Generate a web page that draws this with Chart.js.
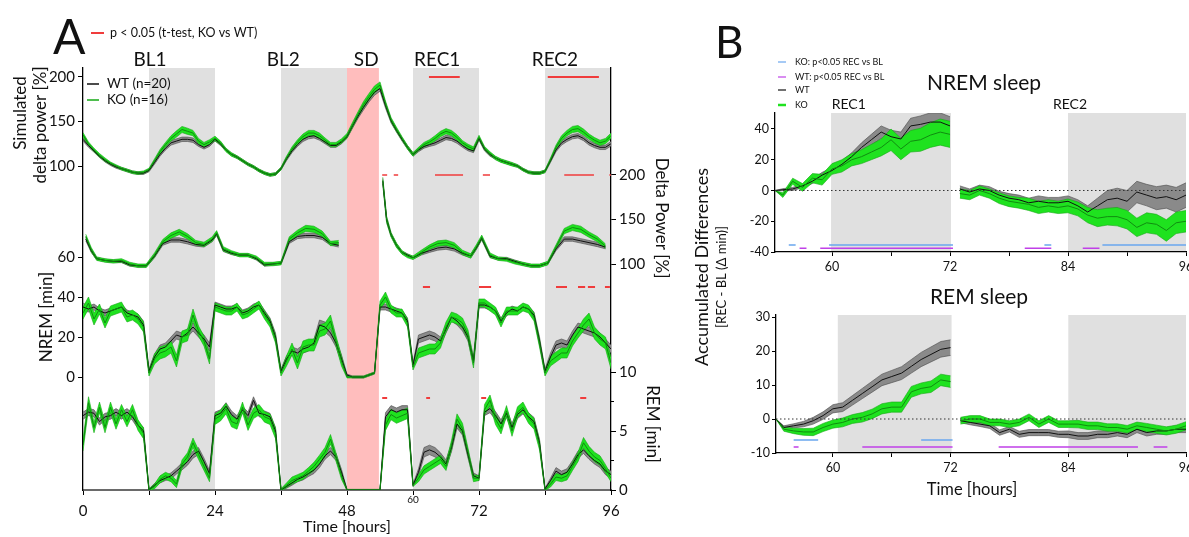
<!DOCTYPE html>
<html>
<head>
<meta charset="utf-8">
<script src="https://cdn.jsdelivr.net/npm/chart.js@4.4.1/dist/chart.umd.min.js"></script>
<style>
  html, body { margin: 0; padding: 0; background: #fff; }
  #wrap { position: relative; width: 1189px; height: 537px; overflow: hidden; }
  canvas { position: absolute; top: 0; }
</style>
</head>
<body>
<div id="wrap">
  <canvas id="chartA" width="700" height="537" style="left:0;width:700px;height:537px"></canvas>
  <canvas id="chartB1" width="499" height="537" style="left:690px;width:499px;height:537px"></canvas>
  <canvas id="chartB2" width="499" height="537" style="left:690px;width:499px;height:537px"></canvas>
</div>
<script>
// ---------- Panel A data (hourly, 0..96 h) ----------
const hours = [0,1,2,3,4,5,6,7,8,9,10,11,12,13,14,15,16,17,18,19,20,21,22,23,24,25,26,27,28,29,30,31,32,33,34,35,36,37,38,39,40,41,42,43,44,45,46,47,48,49,50,51,52,53,54,55,56,57,58,59,60,61,62,63,64,65,66,67,68,69,70,71,72,73,74,75,76,77,78,79,80,81,82,83,84,85,86,87,88,89,90,91,92,93,94,95,96];

// simulated delta power [%]
const simWT = [130,123,117,111,106,102,99,97,95,93,92,92, 95,104,113,120,126,128,130,130,129,124,121,124, 130,125,118,113,110,106,102,99,95,92,90,91, 97,108,117,124,130,133,134,131,127,123,123,127, 133,145,156,166,175,183, 187,168,151,140,130,121, 113,118,122,124,126,129,132,131,128,123,119,117, 131,119,113,109,106,104,102,100,96,93,92,92, 94,106,118,126,130,133,134,131,126,123,121,121,125];
const simKO = [135,125,118,112,107,103,100,97,95,93,92,93, 96,106,116,124,131,136,141,139,137,128,124,127, 131,126,118,113,110,106,102,99,95,92,90,91, 97,109,119,127,133,137,137,134,129,124,124,128, 134,146,158,169,178,186, 191,170,152,141,131,121, 113,119,124,127,131,136,139,137,132,126,122,119, 132,120,114,109,106,104,102,100,96,93,92,92, 94,107,121,131,137,141,142,138,133,129,126,128,134];
const simSemWT = [2,2,1.5,1.5,1.5,1.5,1.5,1.5,1.5,1.5,1.5,1.5, 1.5,2,2,2,2.5,2.5,2.5,2.5,2.5,2,2,2, 2,2,1.5,1.5,1.5,1.5,1.5,1.5,1.5,1.5,1.5,1.5, 1.5,2,2,2,2.5,2.5,2.5,2,2,2,2,2, 2,2.5,2.5,3,3,3.5, 3,3,2.5,2,2,2, 2,2,2,2,2.5,2.5,2.5,2.5,2.5,2,2,2, 2,2,2,1.5,1.5,1.5,1.5,1.5,1.5,1.5,1.5,1.5, 1.5,2,2,2.5,2.5,2.5,2.5,2.5,2.5,2.5,2.5,2.5,2.5];
const simSemKO = [2.5,2,2,2,2,1.5,1.5,1.5,1.5,1.5,1.5,1.5, 1.5,2,2.5,2.5,3,3.5,3.5,3.5,3,3,2.5,2.5, 2.5,2,2,2,1.5,1.5,1.5,1.5,1.5,1.5,1.5,1.5, 1.5,2,2.5,2.5,3,3,3,3,2.5,2.5,2.5,2.5, 2.5,3,3,3.5,3.5,4, 3.5,3,2.5,2.5,2,2, 2,2,2.5,2.5,3,3,3,3,3,2.5,2.5,2.5, 2.5,2,2,2,2,2,2,1.5,1.5,1.5,1.5,1.5, 1.5,2,2.5,3,3,3.5,3.5,3.5,3,3,3,3,3];

// EEG delta power [%] (null = gap around SD)
const deltaHours = [0.5,1.5,2.5,4,5.5,7,8.5,10,11.5,13,14.5,16,17.5,19,20.5,22,23.5,24.3,25.5,27,28.5,30,31.5,33,34.5,36,37.5,39,40.5,42,43.5,45,46.5, 50, 54.5,55.2,56,57,58,59,60,61.5,63,64.5,66,67.5,69,70.5,71.5,72.5,74,75.5,77,78.5,80,81.5,83,84.5,86,87.5,89,90.5,92,93.5,95];
const deltaWT = [128,115,106,104,103,103,99,98,98,109,123,127,127,125,122,121,127,134,116,112,110,110,106,99,100,101,125,131,132,132,130,123,121, null, 193,150,133,121,113,110,107,112,115,118,119,117,112,109,118,129,109,106,106,103,100,98,98,101,117,128,128,126,124,122,119];
const deltaKO = [131,116,106,104,103,104,100,98,98,110,125,132,136,131,124,122,128,135,117,113,110,110,107,100,100,101,128,135,140,139,134,123,124, null, 194,150,133,121,113,109,107,113,119,123,124,121,113,109,119,130,110,106,105,102,100,98,98,101,119,137,141,139,133,128,120];
const deltaSemWT = [2,2,1.5,1.5,1.5,1.5,1.5,1.5,1.5,2,2,2.5,2.5,2.5,2,2,2,2,2,1.5,1.5,1.5,1.5,1.5,1.5,1.5,2,2.5,2.5,2.5,2.5,2,2, 0, 3,3,2,2,1.5,1.5,1.5,2,2,2.5,2.5,2.5,2,2,2,2,2,1.5,1.5,1.5,1.5,1.5,1.5,1.5,2,2.5,2.5,2.5,2.5,2.5,2];
const deltaSemKO = [2.5,2.5,2,2,2,2,2,2,2,2.5,2.5,3,3,3,2.5,2.5,2.5,2.5,2.5,2,2,2,2,2,2,2,2.5,3,3.5,3.5,3,2.5,2.5, 0, 3.5,3.5,2.5,2.5,2,2,2,2.5,2.5,3,3,3,2.5,2.5,2.5,2.5,2.5,2,2,2,2,2,2,2,2.5,3,3.5,3.5,3,3,2.5];

// NREM [min/h]
const nremWT = [35,34,35,33,32,33,34,35,32,31,30,26, 3,10,14,15,18,21,20,22,25,22,19,15, 36,35,34,34,35,32,33,35,36,32,28,20, 3,9,13,12,14,15,17,26,25,22,17,9, 1,0,0,0,1,2, 35,35,34,33,32,28, 6,19,20,21,20,18,24,30,28,25,20,8, 36,36,35,33,28,32,34,33,35,34,31,18, 3,10,16,17,16,21,25,24,23,22,20,17,14];
const nremKO = [32,37,29,34,27,33,34,35,30,31,29,25, 2,9,12,13,15,8,20,21,31,23,18,9, 35,34,33,33,35,31,32,34,36,31,27,19, 2,8,14,7,15,16,16,23,24,28,18,8, 0,0,0,0,1,2, 36,40,34,32,32,27, 5,12,13,14,14,17,25,30,29,27,21,7, 37,37,35,33,27,33,33,33,35,34,30,17, 2,8,10,12,12,18,22,26,29,22,19,17,7];
const nremSemWT = [2,1.5,1.5,1.5,1.5,1.5,1.5,1.5,1.5,1.5,1.5,2, 1,1.5,2,2,2,2,2,2,2,2,2,2, 1.5,1.5,1.5,1.5,1.5,1.5,1.5,1.5,1.5,1.5,1.5,2, 1,1.5,2,2,2,2,2,2.5,2.5,2,2,2, 0.5,0.5,0.5,0.5,0.5,0.5, 1.5,1.5,1.5,1.5,1.5,1.5, 1,2,2,2,2,2,2,2,2,2,2,2, 1.5,1.5,1.5,1.5,1.5,1.5,1.5,1.5,1.5,1.5,1.5,2, 1,2,2,2,2,2,2,2,2,2,2,2,2];
const nremSemKO = [3,3,3,2.5,2.5,2.5,2.5,2.5,2.5,2.5,2.5,2.5, 1.5,2.5,3,3,3,3,3,3,3,2.5,2.5,2.5, 2,2,2,2,2,2,2,2,2,2,2,2, 1.5,2.5,3,3,3,3,3,3,3,3,2.5,2.5, 0.5,0.5,0.5,0.5,0.5,0.5, 2,2.5,2,2,2,2, 1.5,2.5,2.5,2.5,2.5,2.5,2.5,2.5,2.5,2.5,2.5,2.5, 2,2,2,2,2,2,2,2,2,2,2,2, 1.5,2.5,2.5,2.5,2.5,2.5,2.5,3,3,3,3,3,3];

// REM [min/h]
const remWT = [6.3,6.6,6.5,5.8,6.2,6.3,6.6,6.3,6.6,6.2,5.5,5.0, 0,0.4,0.8,1.0,1.2,1.6,2.0,2.4,3.0,3.3,2.4,1.4, 6.3,6.5,7.1,6.4,6.0,6.8,6.3,7.6,6.5,6.4,6.2,5.0, 0,0.3,0.6,0.9,1.1,1.4,1.7,2.2,2.9,3.3,2.8,1.5, 0,0,0,0,0,0, 0,6.2,6.8,6.6,6.8,6.8, 0.4,1.5,3.2,3.4,3.2,2.8,2.2,3.6,5.6,5.0,3.0,1.2, 1.0,6.6,6.9,6.3,5.6,6.5,5.3,6.4,6.8,6.2,5.8,4.0, 0.1,0.8,1.6,1.3,1.5,2.2,3.0,3.4,2.9,2.5,2.2,1.6,1.3];
const remKO = [3.8,7.4,5.3,7.0,5.3,7.0,5.6,6.8,5.8,6.8,5.5,4.8, 0,0.3,0.9,1.2,1.0,0.5,2.2,2.8,4.0,3.0,2.0,1.0, 6.0,6.3,6.9,5.8,5.6,7.0,5.5,6.5,6.8,6.2,6.0,4.8, 0,0.4,0.8,1.0,1.2,1.6,2.0,2.6,3.2,4.3,2.8,1.2, 0,0,0,0,0,0, 0,5.5,6.4,6.1,6.3,6.5, 0.4,1.0,1.7,2.0,2.3,2.6,2.0,3.8,6.0,5.2,3.2,1.0, 1.0,6.8,7.6,6.0,5.2,6.7,5.0,6.6,7.0,6.1,5.6,3.8, 0,0.5,1.1,1.0,1.2,2.0,2.8,4.0,3.3,2.8,2.5,1.8,1.0];
const remSemWT = [0.3,0.3,0.3,0.3,0.3,0.3,0.3,0.3,0.3,0.3,0.3,0.3, 0.1,0.15,0.2,0.2,0.25,0.25,0.3,0.3,0.3,0.3,0.3,0.25, 0.3,0.3,0.3,0.3,0.3,0.3,0.3,0.3,0.3,0.3,0.3,0.3, 0.1,0.15,0.2,0.2,0.25,0.25,0.3,0.3,0.3,0.3,0.3,0.25, 0.05,0.05,0.05,0.05,0.05,0.05, 0.05,0.35,0.35,0.35,0.35,0.35, 0.1,0.3,0.4,0.4,0.4,0.35,0.35,0.35,0.35,0.35,0.3,0.25, 0.2,0.3,0.35,0.35,0.35,0.35,0.35,0.35,0.35,0.35,0.35,0.3, 0.05,0.2,0.3,0.3,0.3,0.3,0.3,0.3,0.3,0.3,0.3,0.3,0.3];
const remSemKO = [0.5,0.5,0.45,0.45,0.45,0.45,0.45,0.45,0.45,0.45,0.45,0.45, 0.1,0.2,0.3,0.3,0.3,0.3,0.35,0.35,0.4,0.4,0.35,0.3, 0.45,0.45,0.45,0.45,0.45,0.45,0.45,0.45,0.45,0.45,0.45,0.45, 0.1,0.2,0.3,0.3,0.3,0.3,0.35,0.35,0.4,0.4,0.35,0.3, 0.05,0.05,0.05,0.05,0.05,0.05, 0.05,0.45,0.45,0.45,0.45,0.45, 0.1,0.3,0.35,0.35,0.35,0.35,0.35,0.4,0.45,0.45,0.35,0.3, 0.2,0.45,0.45,0.45,0.45,0.45,0.45,0.45,0.45,0.45,0.45,0.4, 0.05,0.25,0.3,0.3,0.35,0.35,0.4,0.45,0.4,0.4,0.4,0.35,0.3];

// red bars: p < 0.05 KO vs WT, [from, to] in hours
const sigSim = [[62.9,68.5],[84.5,93.8]];
const sigDelta = [[54.4,55.3],[56.5,57.3],[64,69.1],[72.7,74],[87.5,92.9],[95.7,96]];
const sigNrem = [[61.8,63.1],[72,74.2],[86,88],[90,91.3],[91.8,93.1],[94.9,95.8]];
const sigRem = [[54.4,55.3],[62.4,63.1],[72.4,73.3],[90.4,91.5]];

const darkPeriods = [[12,24],[36,48],[60,72],[84,96]];
const sdPeriod = [48, 53.8];
const periodNames = ['BL1','BL2','SD','REC1','REC2'];
const periodCenters = [12.2, 36.4, 51.5, 64.4, 85.8];

const xTicksA = [0,12,24,36,48,60,72,84,96];
const xLabelsA = [0,24,48,72,96];
const simTicks = [100,150,200];
const deltaTicks = [100,150,200];
const nremTicks = [0,20,40,60];
const remTicks = [0,5,10];
const remMinorTicks = [2.5,7.5];

// ---------- Panel B data (accumulated REC - BL) ----------
const bHours1 = [54.2,55,56,57,58,59,60,61,62,63,64,65,66,67,68,69,70,71,72];
const bHours2 = [73,74,75,76,77,78,79,80,81,82,83,84,85,86,87,88,89,90,91,92,93,94,95,96];

const bNremWT1 = [0,0.5,1,3,6,10,13,17,22,28,33,38,35,33.5,42,43,44.5,44.5,42];
const bNremKO1 = [0,-3,6,2,8,7,14,16,20,22,25,28,33,27,32,33,36,38,36.5];
const bNremSemWT1 = [0,0.7,1,1.2,1.5,1.8,2,2.3,2.5,3,3.5,4,4.2,4.5,5,5.5,6,6,6];
const bNremSemKO1 = [0,1.5,2,2.5,3,3.5,3.5,4,4,4.5,5,5.5,7,7,7,7.5,8,8.5,8.5];
const bNremWT2 = [1,-1,1,0,-3,-5,-6,-8,-7,-8,-8,-7,-10,-14,-10,-6,-5,-7,-1,-3,-5,-4,-6,-3];
const bNremKO2 = [-2,-3,0,-2,-5,-7,-8,-9,-11,-10,-11,-10,-12,-16,-18,-17,-17,-19,-24,-21,-22,-26,-21,-20];
const bNremSemWT2 = [2,2,2.5,2.5,2.5,3,3,3,3.5,3.5,3.5,3.5,4,4,5,6,6.5,7,7,7,7.5,7.5,8,8];
const bNremSemKO2 = [3,3,3,3,3.5,3.5,3.5,4,4,4,4,4.5,4.5,5,5.5,5.5,6,6,6,6.5,6.5,7,7,7];

const bRemWT1 = [0,-2.5,-2,-1.5,-0.5,1,3,3.5,5.5,7.5,9.5,11.5,12.5,13.5,15.5,17.5,19,20.5,21];
const bRemKO1 = [0,-3,-3.5,-3.8,-3.8,-2.5,-1.5,-1,0,0.5,1.5,3,3.5,3.5,8,9,9.5,11.5,11];
const bRemSemWT1 = [0,0.5,0.6,0.8,1,1.1,1.2,1.3,1.4,1.5,1.6,1.7,1.8,1.9,2,2.1,2.2,2.3,2.3];
const bRemSemKO1 = [0,0.6,0.8,1,1.1,1.2,1.2,1.3,1.3,1.4,1.4,1.5,1.5,1.5,1.6,1.6,1.7,1.7,1.7];
const bRemWT2 = [-0.5,-1,-1.5,-2,-4,-3,-4.5,-4,-4,-4,-4.5,-4.5,-5,-5,-4.5,-4.5,-4,-4.5,-3,-4,-3.5,-3.5,-3,-3];
const bRemKO2 = [-0.5,0,0,-1,-1,-1.5,-1,0.5,-1.5,0,-1.5,-1.5,-1.5,-2,-2,-2.5,-2.5,-3,-2,-2.5,-3,-3.5,-3,-2];
const bRemSemWT2 = [0.6,0.7,0.7,0.8,0.8,0.8,0.9,0.9,0.9,0.9,0.9,1,1,1,1,1,1,1,1,1,1,1,1,1];
const bRemSemKO2 = [1,1,1,1,1,1,1,1,1,1,1,1,1.1,1.1,1.1,1.1,1.1,1.1,1.1,1.2,1.2,1.2,1.2,1.2];

// p<0.05 REC vs BL bars
const sigNremKO = [[55.6,56.3],[59.7,72.3],[81.6,82.3],[87.5,96]];
const sigNremWT = [[56.7,57.4],[58.8,72.3],[79.6,82.3],[85.5,87.2]];
const sigRemKO = [[56,58.5],[69,72.2]];
const sigRemWT = [[56,56.5],[63,72.2],[76.9,91.1],[92.7,94.1]];

const recShadeNrem = [[59.9,72.1],[84,96]];
const recShadeRem = [[60.5,72.1],[84,96]];
const xTicksB = [60,66,72,78,84,90,96];
const xLabelsB = [60,72,84,96];
const nremBTicks = [-40,-20,0,20,40];
const remBTicks = [-10,0,10,20,30];

// ---------- styling ----------
const FONT = 'Lato, "Open Sans", sans-serif';
Chart.defaults.font.family = FONT;
Chart.defaults.color = '#111';
Chart.defaults.animation = false;

const WT = { band: '#8a8a8a', edge: '#4a4a4a', line: '#111111' };
const KO = { band: '#1fe21f', edge: '#15a815', line: '#108c10' };
const RED = '#f03c3c';
const BLUE = '#6aa6ee';
const PURPLE = '#c040e8';

function withSem(xs, ys, sem, sign) {
  return xs.map((x, i) => ({ x: x, y: ys[i] == null ? null : ys[i] + sign * sem[i] }));
}

function groupSets(xs, mean, sem, axis, st, lineOrder, bandOrder) {
  return [
    { data: withSem(xs, mean, sem, 1), yAxisID: axis, borderColor: st.edge, borderWidth: 0.6,
      pointRadius: 0, fill: false, order: bandOrder },
    { data: withSem(xs, mean, sem, -1), yAxisID: axis, borderColor: st.edge, borderWidth: 0.6,
      pointRadius: 0, fill: '-1', backgroundColor: st.band, order: bandOrder },
    { data: xs.map((x, i) => ({ x: x, y: mean[i] })), yAxisID: axis, borderColor: st.line,
      borderWidth: 1, pointRadius: 0, fill: false, order: lineOrder }
  ];
}

function sigSet(pairs, level, axis, color, width) {
  const data = [];
  pairs.forEach(p => {
    data.push({ x: p[0], y: level }, { x: p[1], y: level }, { x: p[1], y: null });
  });
  return { data, yAxisID: axis, borderColor: color, borderWidth: width, pointRadius: 0,
           fill: false, order: 0 };
}

function fixedTicks(list) {
  return s => { s.ticks = list.map(v => ({ value: v })); };
}

const shadePlugin = {
  id: 'shade',
  beforeDraw(chart, args, opts) {
    const { ctx, chartArea: a, scales: { x } } = chart;
    ctx.save();
    (opts.bands || []).forEach(b => {
      const x0 = x.getPixelForValue(b[0]);
      const x1 = x.getPixelForValue(b[1]);
      ctx.fillStyle = b[2];
      ctx.fillRect(x0, a.top, x1 - x0, a.bottom - a.top);
    });
    ctx.restore();
  }
};

function rotText(ctx, txt, x, y, ang, font) {
  ctx.save();
  ctx.translate(x, y);
  ctx.rotate(ang);
  ctx.font = font;
  ctx.textAlign = 'center';
  ctx.textBaseline = 'middle';
  ctx.fillText(txt, 0, 0);
  ctx.restore();
}

function legendLine(ctx, x0, x1, y, color, w) {
  ctx.strokeStyle = color;
  ctx.lineWidth = w;
  ctx.beginPath();
  ctx.moveTo(x0, y);
  ctx.lineTo(x1, y);
  ctx.stroke();
}

// ---------- Panel A ----------
const panelAText = {
  id: 'panelAText',
  afterDraw(chart) {
    const { ctx, chartArea: a, scales } = chart;
    const x = scales.x;
    ctx.save();
    ctx.fillStyle = '#111';
    ctx.textBaseline = 'alphabetic';
    ctx.textAlign = 'left';
    ctx.font = '48px ' + FONT;
    ctx.fillText('A', 53, 54);

    legendLine(ctx, 91, 104, 33, RED, 2);
    ctx.font = '12.5px ' + FONT;
    ctx.textBaseline = 'middle';
    ctx.fillText('p < 0.05 (t-test, KO vs WT)', 110, 33);

    legendLine(ctx, 87, 99, 84, '#111', 1.5);
    legendLine(ctx, 87, 99, 100, KO.edge, 1.5);
    ctx.font = '13.5px ' + FONT;
    ctx.fillText('WT (n=20)', 107, 84);
    ctx.fillText('KO (n=16)', 107, 100);

    ctx.font = '19px ' + FONT;
    ctx.textAlign = 'center';
    ctx.textBaseline = 'alphabetic';
    periodNames.forEach((t, i) => ctx.fillText(t, x.getPixelForValue(periodCenters[i]), 66));

    // tick marks and labels of the NREM (left) and REM (right) scales
    const ny = scales.nremY, ry = scales.remY;
    ctx.font = '15px ' + FONT;
    ctx.textBaseline = 'middle';
    ctx.textAlign = 'right';
    nremTicks.forEach(v => {
      const y = Math.round(ny.getPixelForValue(v)) + 0.5;
      legendLine(ctx, a.left - 5, a.left, y, '#000', 1);
      ctx.fillText(String(v), a.left - 8, y);
    });
    ctx.textAlign = 'left';
    remTicks.forEach(v => {
      const y = Math.round(ry.getPixelForValue(v)) + 0.5;
      legendLine(ctx, a.right, a.right + 5, y, '#000', 1);
      ctx.fillText(String(v), a.right + 8, y);
    });
    remMinorTicks.forEach(v => {
      const y = Math.round(ry.getPixelForValue(v)) + 0.5;
      legendLine(ctx, a.right, a.right + 3, y, '#000', 1);
    });

    // small "60" label on the time axis
    ctx.font = '10px ' + FONT;
    ctx.textAlign = 'center';
    ctx.fillText('60', x.getPixelForValue(60), 500);

    // axis titles
    const f = '17px ' + FONT;
    rotText(ctx, 'Simulated', 21, 113, -Math.PI / 2, f);
    rotText(ctx, 'delta power [%]', 41, 125, -Math.PI / 2, f);
    rotText(ctx, 'NREM [min]', 47, 317, -Math.PI / 2, f);
    rotText(ctx, 'Delta Power [%]', 661, 218, Math.PI / 2, f);
    rotText(ctx, 'REM [min]', 652, 424, Math.PI / 2, f);
    rotText(ctx, 'Time [hours]', 347, 527, 0, '16px ' + FONT);
    ctx.restore();
  }
};

const datasetsA = [].concat(
  sigSet(sigSim, 200, 'simY', RED, 2),
  sigSet(sigDelta, 200, 'deltaY', RED, 1.5),
  sigSet(sigNrem, 45, 'nremY', RED, 2),
  sigSet(sigRem, 7.8, 'remY', RED, 2),
  groupSets(hours, simKO, simSemKO, 'simY', KO, 1, 3),
  groupSets(hours, simWT, simSemWT, 'simY', WT, 2, 4),
  groupSets(deltaHours, deltaKO, deltaSemKO, 'deltaY', KO, 1, 3),
  groupSets(deltaHours, deltaWT, deltaSemWT, 'deltaY', WT, 2, 4),
  groupSets(hours, nremKO, nremSemKO, 'nremY', KO, 1, 3),
  groupSets(hours, nremWT, nremSemWT, 'nremY', WT, 2, 4),
  groupSets(hours, remKO, remSemKO, 'remY', KO, 1, 3),
  groupSets(hours, remWT, remSemWT, 'remY', WT, 2, 4)
);

const shadeA = darkPeriods.map(p => [p[0], p[1], '#e0e0e0']).concat([[sdPeriod[0], sdPeriod[1], '#ffbdbd']]);

new Chart(document.getElementById('chartA'), {
  type: 'line',
  data: { datasets: datasetsA },
  plugins: [shadePlugin, panelAText],
  options: {
    responsive: false,
    layout: { padding: { left: 43, right: 49, top: 68, bottom: 0 } },
    plugins: { legend: { display: false }, tooltip: { enabled: false }, shade: { bands: shadeA } },
    elements: { line: { tension: 0 } },
    scales: {
      x: {
        type: 'linear', min: 0, max: 96,
        afterBuildTicks: fixedTicks(xTicksA),
        ticks: { autoSkip: false, maxRotation: 0, padding: 7, font: { size: 15 },
                 callback: v => xLabelsA.includes(v) ? String(v) : '' },
        grid: { drawOnChartArea: false, tickLength: 5, color: '#000' },
        border: { color: '#6a6a6a', width: 2 },
        afterFit: s => { s.height = 47; s.paddingLeft = 0; s.paddingRight = 0; }
      },
      simY: {
        position: 'left', min: -264, max: 210.1,
        afterBuildTicks: fixedTicks(simTicks),
        ticks: { font: { size: 15 }, padding: 3 },
        grid: { drawOnChartArea: false, tickLength: 5, color: '#000' },
        border: { color: '#000', width: 1.3 },
        afterFit: s => { s.width = 40; s.paddingTop = 0; s.paddingBottom = 0; }
      },
      nremY: { display: false, position: 'left', min: -56.5, max: 154.5 },
      deltaY: {
        position: 'right', min: -153.9, max: 320.2,
        afterBuildTicks: fixedTicks(deltaTicks),
        ticks: { font: { size: 15 }, padding: 3 },
        grid: { drawOnChartArea: false, tickLength: 5, color: '#000' },
        border: { color: '#000', width: 1.3 },
        afterFit: s => { s.width = 40; s.paddingTop = 0; s.paddingBottom = 0; }
      },
      remY: { display: false, position: 'right', min: 0, max: 35.76 }
    }
  }
});

// ---------- Panel B ----------
function joinSeg(a, b, gap) { return a.concat([gap], b); }
const bHours = joinSeg(bHours1, bHours2, 72.5);

function zeroLine() {
  return { data: [{ x: 54.2, y: 0 }, { x: 96, y: 0 }], borderColor: '#333', borderWidth: 1,
           borderDash: [1.5, 2.5], pointRadius: 0, fill: false, order: 0, yAxisID: 'y' };
}

function axisB(min, max, ticks, xHeight) {
  return {
    x: {
      type: 'linear', min: 54.2, max: 96,
      afterBuildTicks: fixedTicks(xTicksB),
      ticks: { autoSkip: false, maxRotation: 0, padding: 3, font: { size: 12.5 },
               callback: v => xLabelsB.includes(v) ? String(v) : '' },
      grid: { drawOnChartArea: false, tickLength: 4, color: '#000' },
      border: { color: '#000', width: 1.3 },
      afterFit: s => { s.height = xHeight; s.paddingLeft = 0; s.paddingRight = 0; }
    },
    y: {
      min: min, max: max,
      afterBuildTicks: fixedTicks(ticks),
      ticks: { font: { size: 12.5 }, padding: 2 },
      grid: { drawOnChartArea: false, tickLength: 4, color: '#000' },
      border: { color: '#000', width: 1.3 },
      afterFit: s => { s.width = 40; s.paddingTop = 0; s.paddingBottom = 0; }
    }
  };
}

const panelB1Text = {
  id: 'panelB1Text',
  afterDraw(chart) {
    const { ctx, scales: { x } } = chart;
    ctx.save();
    ctx.fillStyle = '#111';
    ctx.textAlign = 'left';
    ctx.textBaseline = 'alphabetic';
    ctx.font = '44px ' + FONT;
    ctx.fillText('B', 25, 58);

    ctx.textBaseline = 'middle';
    ctx.font = '9px ' + FONT;
    legendLine(ctx, 88, 96, 62, BLUE, 1.2);
    ctx.fillText('KO: p<0.05 REC vs BL', 105, 62);
    legendLine(ctx, 88, 96, 77, PURPLE, 1.2);
    ctx.fillText('WT: p<0.05 REC vs BL', 105, 77);
    legendLine(ctx, 88, 96, 90, '#111', 1.2);
    ctx.fillText('WT', 105, 90);
    legendLine(ctx, 88, 96, 105, KO.band, 2.5);
    ctx.fillText('KO', 105, 105);

    ctx.textAlign = 'center';
    ctx.font = '21px ' + FONT;
    ctx.fillText('NREM sleep', 294, 83);
    ctx.font = '14px ' + FONT;
    ctx.fillText('REC1', x.getPixelForValue(61.7), 104);
    ctx.fillText('REC2', x.getPixelForValue(84.2), 104);

    rotText(ctx, 'Accumulated Differences', 12, 267, -Math.PI / 2, '18px ' + FONT);
    rotText(ctx, '[REC - BL (\u0394 min)]', 32, 277, -Math.PI / 2, '13px ' + FONT);
    ctx.restore();
  }
};

const panelB2Text = {
  id: 'panelB2Text',
  afterDraw(chart) {
    const { ctx } = chart;
    ctx.save();
    ctx.fillStyle = '#111';
    ctx.textAlign = 'center';
    ctx.textBaseline = 'middle';
    ctx.font = '21px ' + FONT;
    ctx.fillText('REM sleep', 289, 297);
    ctx.font = '16.5px ' + FONT;
    ctx.fillText('Time [hours]', 282, 490);
    ctx.restore();
  }
};

const datasetsB1 = [].concat(
  [zeroLine()],
  sigSet(sigNremKO, -35.5, 'y', BLUE, 1.5),
  sigSet(sigNremWT, -37.5, 'y', PURPLE, 1.5),
  groupSets(bHours, joinSeg(bNremKO1, bNremKO2, null), joinSeg(bNremSemKO1, bNremSemKO2, 0), 'y', KO, 1, 3),
  groupSets(bHours, joinSeg(bNremWT1, bNremWT2, null), joinSeg(bNremSemWT1, bNremSemWT2, 0), 'y', WT, 2, 4)
);

const datasetsB2 = [].concat(
  [zeroLine()],
  sigSet(sigRemKO, -6.2, 'y', BLUE, 1.5),
  sigSet(sigRemWT, -8.2, 'y', PURPLE, 1.5),
  groupSets(bHours, joinSeg(bRemKO1, bRemKO2, null), joinSeg(bRemSemKO1, bRemSemKO2, 0), 'y', KO, 1, 3),
  groupSets(bHours, joinSeg(bRemWT1, bRemWT2, null), joinSeg(bRemSemWT1, bRemSemWT2, 0), 'y', WT, 2, 4)
);

new Chart(document.getElementById('chartB1'), {
  type: 'line',
  data: { datasets: datasetsB1 },
  plugins: [shadePlugin, panelB1Text],
  options: {
    responsive: false,
    layout: { padding: { left: 45, right: 3, top: 113, bottom: 263 } },
    plugins: { legend: { display: false }, tooltip: { enabled: false },
               shade: { bands: recShadeNrem.map(p => [p[0], p[1], '#e0e0e0']) } },
    elements: { line: { tension: 0 } },
    scales: axisB(-40, 50.4, nremBTicks, 22)
  }
});

new Chart(document.getElementById('chartB2'), {
  type: 'line',
  data: { datasets: datasetsB2 },
  plugins: [shadePlugin, panelB2Text],
  options: {
    responsive: false,
    layout: { padding: { left: 46, right: 3, top: 315, bottom: 34 } },
    plugins: { legend: { display: false }, tooltip: { enabled: false },
               shade: { bands: recShadeRem.map(p => [p[0], p[1], '#e0e0e0']) } },
    elements: { line: { tension: 0 } },
    scales: axisB(-10, 30.6, remBTicks, 50)
  }
});
</script>
</body>
</html>
